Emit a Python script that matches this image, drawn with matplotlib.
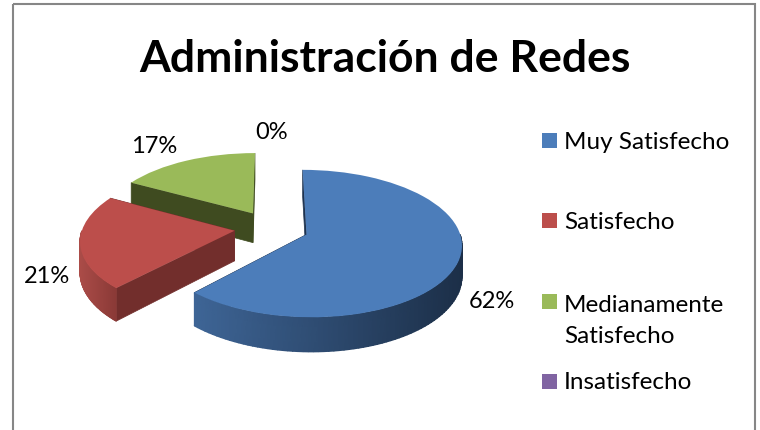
"""Administracion de Redes - exploded 3D style pie chart."""
import numpy as np
import matplotlib
matplotlib.use('Agg')
import matplotlib.pyplot as plt
from matplotlib.colors import LinearSegmentedColormap
from matplotlib.patches import Rectangle
from matplotlib.transforms import Transform

# Data
categories = ['Muy Satisfecho', 'Satisfecho', 'Medianamente\nSatisfecho', 'Insatisfecho']
values = [62, 21, 17, 0]
pct_labels = ['62%', '21%', '17%', '0%']

# Styles
top_colors = ['#4c7dba', '#bc4e4b', '#9aba59', '#8064a2']
wall_left = ['#3e6596', '#ab4c48', '#5c7030', '#4d3c61']
wall_right = ['#1c2f48', '#8b3a37', '#5c7030', '#4d3c61']
cut_colors = ['#1e3350', '#722e2c', '#3f4b20', '#4d3c61']
explode = [0.245, 0.245, 0.245, 0.245]

# Layout, in reference pixels
W, H = 760, 431
CX, CY = 271.5, 229
RX, RY = 152, 71
PERSP = 0.122
DEPTH = 30
label_pos = [(469, 308), (24, 283), (131, 153), (255, 139)]
swatch_y = [134, 214, 295, 375]
legend_y = [149, 229, 343, 389]

plt.rcParams['font.family'] = ['Lato', 'DejaVu Sans']


class Tilt(Transform):
    """Unit pie coordinates to pixels, with a bit of perspective."""
    input_dims = 2
    output_dims = 2
    is_affine = False

    def __init__(self, drop=0.0):
        super().__init__()
        self.drop = drop

    def transform_non_affine(self, values):
        pts = np.asarray(values, dtype=float)
        w = 1 + PERSP * pts[:, 1]
        x = CX + RX * pts[:, 0] / w
        y = CY - RY * pts[:, 1] / w + self.drop / w
        return np.column_stack([x, y])


def project(u, v, drop=0.0):
    return Tilt(drop).transform_non_affine(np.column_stack([u, v]))


def draw_sides(ax, wedge, i, z):
    """Draw the cut faces and the outer wall under one wedge."""
    cu, cv = wedge.center
    for theta in (wedge.theta1, wedge.theta2):
        t = np.deg2rad(theta)
        u = [cu, cu + np.cos(t)]
        v = [cv, cv + np.sin(t)]
        up = project(u, v)
        down = project(u, v, DEPTH)
        poly = np.vstack([up, down[::-1]])
        ax.fill(poly[:, 0], poly[:, 1], color=cut_colors[i], lw=0.5, zorder=z)

    # only the front part of the rim can be seen
    cmap = LinearSegmentedColormap.from_list('wall', [wall_left[i], wall_right[i]])
    for shift in np.arange(-360, 361, 360):
        a = max(wedge.theta1 + shift, 180)
        b = min(wedge.theta2 + shift, 360)
        if b <= a:
            continue
        edges = np.deg2rad(np.linspace(a, b, 80))
        u = cu + np.cos(edges)
        v = cv + np.sin(edges)
        up = project(u, v)
        down = project(u, v, DEPTH)
        X = np.column_stack([up[:, 0], down[:, 0]])
        Y = np.column_stack([up[:, 1], down[:, 1]])
        ax.pcolormesh(X, Y, X, shading='gouraud', cmap=cmap, zorder=z + 0.1)


fig = plt.figure(figsize=(W / 100, H / 100), dpi=100)
ax = fig.add_axes([0, 0, 1, 1])

wedges, _ = ax.pie(values, explode=explode, colors=top_colors, startangle=90,
                   counterclock=False)
ax.set_aspect('auto')
ax.set_xlim(0, W)
ax.set_ylim(H, 0)
ax.axis('off')

# green first, blue last, so nearer slices cover the ones behind
draw_order = [2, 1, 0]
tilt = Tilt() + ax.transData
for z, i in enumerate(draw_order, start=1):
    wedge = wedges[i]
    draw_sides(ax, wedge, i, z)
    wedge.set_transform(tilt)
    wedge.set_zorder(z + 0.5)
    wedge.set_linewidth(0)
wedges[3].set_visible(False)

ax.add_patch(Rectangle((13, 5), 742, 440, fill=False, edgecolor='#868686',
                       linewidth=1.5, zorder=10))

ax.text(384.5, 72, 'Administración de Redes', fontsize=32, fontweight='bold',
        color='black', ha='center', va='baseline')

for lab, (x, y) in zip(pct_labels, label_pos):
    ax.text(x, y, lab, fontsize=17, color='black', ha='left', va='baseline')

for cat, col, sy, ty in zip(categories, top_colors, swatch_y, legend_y):
    ax.add_patch(Rectangle((542, sy), 15, 15, facecolor=col, edgecolor='none', zorder=5))
    ax.text(564, ty, cat, fontsize=17.5, color='black', ha='left', va='baseline',
            linespacing=1.6)

ax.set_xlim(0, W)
ax.set_ylim(H, 0)
fig.savefig('out.png', dpi=100)
